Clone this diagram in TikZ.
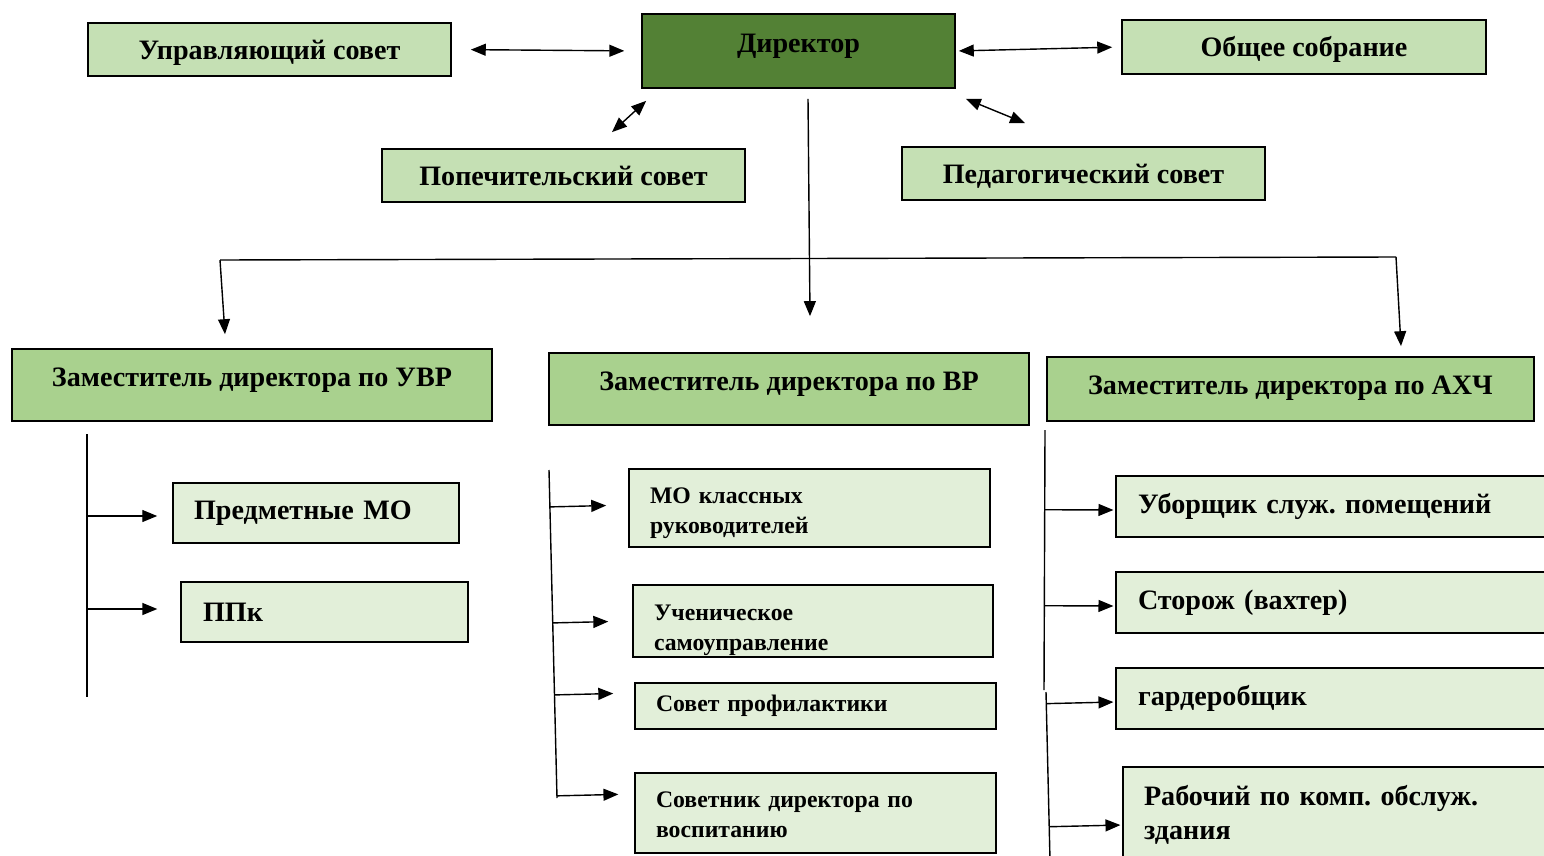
\documentclass[tikz,border=0pt]{standalone}
\usepackage{fontspec}
\setmainfont{Liberation Serif}
\usetikzlibrary{arrows.meta,calc}
\frenchspacing

\begin{document}
\begin{tikzpicture}[x=0.02cm,y=-0.02cm,
  box/.style={draw=black,line width=1pt,inner sep=0pt,font=\bfseries\fontsize{16}{19.3}\selectfont},
  top/.style={box,fill=kLight,minimum width=7.26cm,minimum height=1.06cm,text height=14.6pt,text depth=3.5pt},
  deputy/.style={box,fill=kDeputy,minimum width=9.6cm,minimum height=1.44cm,text depth=8.4pt},
  pale/.style={box,fill=kPale,align=left,inner xsep=0.42cm},
  small/.style={font=\bfseries\fontsize{13.5}{17}\selectfont},
  link/.style={line width=0.8pt},
  arr/.style={link,-{Triangle[length=8.5pt,width=6.8pt]}},
  darr/.style={link,{Triangle[length=8.5pt,width=6.8pt]}-{Triangle[length=8.5pt,width=6.8pt]}}]
  \definecolor{kDark}{HTML}{538135}
  \definecolor{kLight}{HTML}{C5E0B4}
  \definecolor{kDeputy}{HTML}{A9D18E}
  \definecolor{kPale}{HTML}{E2EFD9}

  \useasboundingbox (0,0) rectangle (1544,855);
  \clip (0,0) rectangle (1544,855);

  % top level
  \node[box,fill=kDark,minimum width=6.26cm,minimum height=1.48cm,text depth=8.8pt] (dir) at (798.5,51) {Директор};
  \node[top] (upr) at (269.5,49.5) {Управляющий совет};
  \node[top,minimum width=7.28cm,minimum height=1.08cm] (obsh) at (1304,47) {Общее собрание};
  \node[top] (pop) at (563.5,175.5) {Попечительский совет};
  \node[top] (ped) at (1083.5,173.5) {Педагогический совет};

  \draw[darr,shorten <=10.8pt,shorten >=9.6pt] (upr.east) -- (dir.west);
  \draw[darr,shorten <=1.7pt,shorten >=5.1pt] (dir.east) -- (obsh.west);
  \draw[darr] ([shift={(48.5,-16)}]pop.north) -- ([shift={(5,12)}]dir.south west);
  \draw[darr] ([shift={(10,10)}]dir.south east) -- ([shift={(-58.5,-23)}]ped.north);

  % deputies
  \node[deputy] (uvr) at (252,385) {Заместитель директора по УВР};
  \node[deputy] (vr) at (789,389) {Заместитель директора по ВР};
  \node[deputy,minimum width=9.74cm,minimum height=1.28cm,text depth=4.6pt] (axch) at (1290.5,389) {Заместитель директора по АХЧ};

  \coordinate (busL) at (220,260);
  \coordinate (busR) at (1396,257);
  \draw[link] (busL) -- (busR);
  \draw[arr] ([shift={(9.5,10)}]dir.south) -- ([shift={(21,-36)}]vr.north);
  \draw[arr] (busL) -- ([shift={(-27,-14)}]uvr.north);
  \draw[arr] (busR) -- ([shift={(110.5,-10)}]axch.north);

  % УВР
  \node[pale,text width=4.88cm,minimum height=1.2cm] (predm) at (316,513) {Предметные МО};
  \node[pale,text width=4.86cm,minimum height=1.2cm,inner xsep=0.44cm] (ppk) at (324.5,612) {ППк};

  \coordinate (uvrTop) at (87,434);
  \coordinate (uvrBot) at (87,697);
  \draw[link] (uvrTop) -- (uvrBot);
  \foreach \n/\dy/\gap in {predm/3/8.5pt, ppk/-3/13pt}
    \draw[arr,shorten >=\gap] ($(uvrTop)!([shift={(0,\dy)}]\n.west)!(uvrBot)$) -- ([shift={(0,\dy)}]\n.west);

  % ВР
  \node[pale,small,text width=6.38cm,minimum height=1.56cm,text height=14.6pt] (mokl) at (809.5,508) {МО классных\\руководителей};
  \node[pale,small,text width=6.36cm,minimum height=1.44cm,text height=19pt] (uchen) at (813,621) {Ученическое\\самоуправление};
  \node[pale,small,text width=6.38cm,minimum height=0.92cm] (sovprof) at (815.5,706) {Совет профилактики};
  \node[pale,small,text width=6.38cm,minimum height=1.6cm,text height=11.2pt] (sovetnik) at (815.5,813) {Советник директора по\\воспитанию};

  \coordinate (vrTop) at (549,470);
  \coordinate (vrBot) at (557,798);
  \draw[link] (vrTop) -- (vrBot);
  \foreach \n/\dy/\gap in {mokl/-3/12.5pt, uchen/0/13.6pt, sovprof/-13/11.9pt, sovetnik/-19/9pt}
    \draw[arr,shorten >=\gap] ($(vrTop)!([shift={(0,\dy)}]\n.west)!(vrBot)$) -- ([shift={(0,\dy)}]\n.west);

  % АХЧ
  \node[pale,text width=8.0cm,minimum height=1.22cm,inner xsep=0.44cm] (ubor) at (1338,506.5) {Уборщик служ. помещений};
  \node[pale,text width=8.0cm,minimum height=1.22cm,inner xsep=0.44cm] (storozh) at (1338,602.5) {Сторож (вахтер)};
  \node[pale,text width=8.0cm,minimum height=1.22cm,inner xsep=0.44cm] (gard) at (1338,698.5) {гардеробщик};
  \node[pale,text width=7.9cm,minimum height=1.84cm,text height=13.5pt] (rab) at (1341.5,813) {Рабочий по комп. обслуж.\\здания};

  \coordinate (axTop) at (1045,430);
  \coordinate (axMid) at (1044,690);
  \coordinate (axLow) at (1046,692);
  \coordinate (axBot) at (1050,860);
  \draw[link] (axTop) -- (axMid);
  \draw[link] (axLow) -- (axBot);
  \foreach \n/\dy/\a/\b in {ubor/3.5/axTop/axMid, storozh/3.5/axTop/axMid, gard/3.5/axLow/axBot, rab/12/axLow/axBot}
    \draw[arr,shorten >=1pt] ($(\a)!([shift={(0,\dy)}]\n.west)!(\b)$) -- ([shift={(0,\dy)}]\n.west);
\end{tikzpicture}
\end{document}
